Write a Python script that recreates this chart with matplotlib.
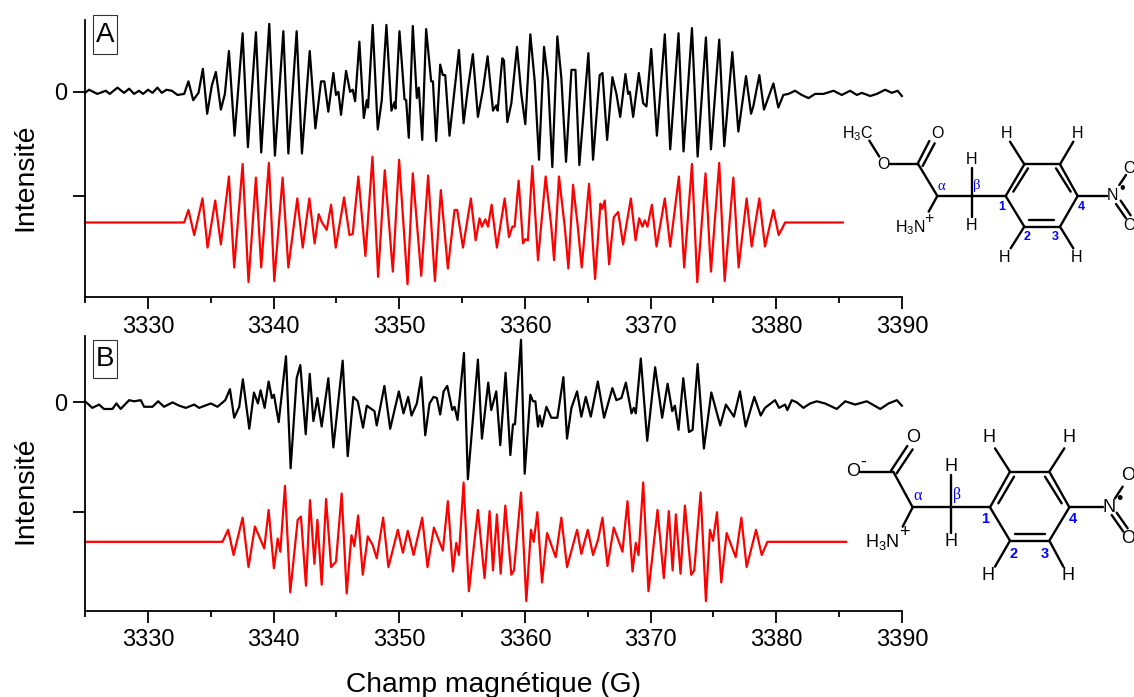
import matplotlib
matplotlib.use('Agg')
import matplotlib.pyplot as plt
from matplotlib.patches import Rectangle
from matplotlib.ticker import MultipleLocator

plt.rcParams['font.family'] = ['Liberation Sans', 'DejaVu Sans']
plt.rcParams['mathtext.default'] = 'regular'

out_name = 'out.png'

# panel A, measured spectrum
field_a_exp = [3325.00, 3325.32, 3325.98, 3326.65, 3326.97, 3327.58, 3328.11, 3328.51, 3328.90, 3329.30, 3329.62, 3330.02,
    3330.37, 3330.76, 3331.11, 3331.48, 3331.91, 3332.36, 3332.89, 3333.23, 3333.61, 3334.03, 3334.38, 3334.72,
    3335.09, 3335.41, 3335.81, 3336.13, 3336.45, 3336.90, 3337.54, 3337.96, 3338.60, 3339.02, 3339.66, 3340.11,
    3340.78, 3341.18, 3341.84, 3342.26, 3342.88, 3343.33, 3343.78, 3344.04, 3344.36, 3344.76, 3344.97, 3345.16,
    3345.37, 3345.77, 3346.09, 3346.30, 3346.49, 3346.83, 3347.18, 3347.42, 3347.52, 3347.89, 3348.29, 3348.61,
    3348.98, 3349.38, 3349.62, 3349.70, 3350.02, 3350.42, 3350.55, 3350.76, 3351.08, 3351.40, 3351.56, 3351.83,
    3352.14, 3352.54, 3352.68, 3352.94, 3353.26, 3353.47, 3353.66, 3354.00, 3354.75, 3355.12, 3355.46, 3355.86,
    3356.26, 3356.66, 3357.03, 3357.46, 3357.72, 3357.83, 3358.20, 3358.33, 3358.60, 3358.92, 3359.37, 3359.71,
    3360.03, 3360.43, 3360.78, 3361.12, 3361.52, 3361.84, 3362.18, 3362.58, 3362.90, 3363.27, 3363.70, 3364.02,
    3364.33, 3365.05, 3365.42, 3365.95, 3366.17, 3366.54, 3366.96, 3367.28, 3367.58, 3368.00, 3368.21, 3368.35,
    3368.61, 3369.06, 3369.41, 3369.67, 3370.05, 3370.50, 3371.13, 3371.56, 3372.22, 3372.62, 3373.29, 3373.74,
    3374.40, 3374.80, 3375.46, 3375.86, 3376.50, 3376.98, 3377.59, 3377.99, 3378.17, 3378.65, 3379.02, 3379.77,
    3380.16, 3380.56, 3380.96, 3381.49, 3382.02, 3382.56, 3383.09, 3383.75, 3384.55, 3385.21, 3385.87, 3386.41,
    3386.80, 3387.47, 3388.00, 3388.66, 3389.19, 3389.65, 3389.99]
int_a_exp = [-0.01, 0.02, -0.02, 0.01, -0.02, 0.04, -0.01, 0.03, -0.02, 0.01, -0.02, 0.02,
    -0.01, 0.04, -0.01, 0.02, 0.01, -0.03, -0.02, 0.10, -0.08, -0.01, 0.22, -0.21,
    0.06, 0.19, -0.17, -0.02, 0.39, -0.42, 0.56, -0.53, 0.57, -0.58, 0.65, -0.61,
    0.58, -0.59, 0.58, -0.59, 0.39, -0.35, 0.10, 0.10, -0.19, 0.18, -0.03, 0.00,
    -0.22, 0.20, 0.00, 0.02, -0.09, 0.48, -0.25, -0.08, -0.15, 0.64, -0.36, -0.08,
    0.64, -0.18, -0.10, -0.16, 0.58, -0.07, -0.08, -0.44, 0.63, -0.06, 0.04, -0.46,
    0.60, 0.10, 0.10, -0.47, 0.26, 0.16, 0.16, -0.42, 0.40, -0.30, 0.03, 0.36,
    -0.24, 0.02, 0.34, -0.18, -0.13, -0.18, 0.32, 0.30, -0.29, -0.11, 0.43, -0.02,
    -0.31, 0.55, 0.10, -0.65, 0.43, 0.11, -0.72, 0.53, 0.13, -0.67, 0.21, 0.21,
    -0.70, 0.37, -0.65, 0.16, 0.18, -0.46, 0.14, -0.02, -0.24, 0.17, -0.02, 0.00,
    -0.24, 0.18, -0.11, -0.14, 0.41, -0.42, 0.55, -0.55, 0.56, -0.57, 0.61, -0.62,
    0.52, -0.55, 0.50, -0.52, 0.38, -0.38, 0.15, -0.21, -0.14, 0.16, -0.17, 0.08,
    -0.15, -0.03, -0.02, 0.01, -0.03, -0.06, -0.02, -0.02, 0.01, -0.03, 0.01, -0.03,
    -0.01, -0.04, -0.02, 0.02, -0.01, 0.01, -0.04]

# panel A, simulation
field_a_sim = [3325.00, 3332.89, 3333.23, 3333.69, 3334.35, 3334.75, 3335.36, 3335.81, 3336.45, 3336.87, 3337.54, 3338.01,
    3338.60, 3339.02, 3339.63, 3340.06, 3340.72, 3341.18, 3341.89, 3342.32, 3342.85, 3343.27, 3343.59, 3343.86,
    3344.23, 3344.58, 3344.95, 3345.61, 3346.04, 3346.30, 3346.75, 3347.31, 3347.87, 3348.32, 3348.85, 3349.49,
    3349.99, 3350.66, 3351.08, 3351.75, 3352.30, 3352.84, 3353.31, 3353.87, 3354.40, 3354.61, 3355.07, 3355.70,
    3356.08, 3356.39, 3356.58, 3356.85, 3357.06, 3357.35, 3357.77, 3358.39, 3358.73, 3359.00, 3359.18, 3359.50,
    3359.85, 3360.03, 3360.24, 3360.59, 3361.04, 3361.65, 3362.10, 3362.32, 3362.71, 3363.09, 3363.17, 3363.46,
    3363.83, 3364.18, 3364.52, 3365.10, 3365.58, 3366.01, 3366.14, 3366.35, 3366.70, 3367.07, 3367.42, 3367.81,
    3368.43, 3368.80, 3369.09, 3369.35, 3369.54, 3369.75, 3370.10, 3370.47, 3371.13, 3371.56, 3372.25, 3372.67,
    3373.29, 3373.71, 3374.37, 3374.80, 3375.46, 3375.89, 3376.58, 3377.00, 3377.64, 3378.04, 3378.65, 3379.10,
    3379.77, 3380.19, 3380.70, 3385.29]
int_a_sim = [-1.25, -1.25, -1.13, -1.37, -1.02, -1.49, -1.04, -1.46, -0.81, -1.68, -0.69, -1.82,
    -0.82, -1.68, -0.68, -1.81, -0.82, -1.68, -1.02, -1.49, -1.02, -1.45, -1.17, -1.25,
    -1.32, -1.08, -1.49, -1.01, -1.37, -1.36, -0.81, -1.57, -0.62, -1.77, -0.75, -1.72,
    -0.65, -1.84, -0.78, -1.76, -0.80, -1.81, -0.94, -1.69, -1.13, -1.13, -1.49, -1.02,
    -1.42, -1.21, -1.29, -1.22, -1.29, -1.08, -1.49, -1.02, -1.39, -1.29, -1.29, -0.85,
    -1.45, -1.41, -1.42, -0.71, -1.61, -0.81, -1.29, -1.61, -0.81, -1.21, -1.29, -1.69,
    -0.89, -1.26, -1.68, -0.88, -1.79, -1.07, -1.12, -1.04, -1.65, -1.20, -1.15, -1.46,
    -1.02, -1.42, -1.21, -1.29, -1.23, -1.29, -1.08, -1.48, -1.02, -1.48, -0.81, -1.68,
    -0.69, -1.82, -0.78, -1.72, -0.68, -1.81, -0.82, -1.68, -1.02, -1.48, -1.02, -1.48,
    -1.13, -1.37, -1.25, -1.25]

# panel B, measured spectrum
field_b_exp = [3325.00, 3325.58, 3326.12, 3326.51, 3327.18, 3327.50, 3327.84, 3328.51, 3328.90, 3329.44, 3329.70, 3330.37,
    3330.82, 3331.29, 3331.96, 3332.49, 3333.02, 3333.69, 3334.08, 3335.01, 3335.54, 3336.16, 3336.53, 3336.87,
    3337.27, 3337.56, 3338.07, 3338.44, 3338.76, 3338.97, 3339.29, 3339.61, 3339.87, 3340.03, 3340.41, 3340.99,
    3341.36, 3341.84, 3342.13, 3342.56, 3342.88, 3343.17, 3343.49, 3343.83, 3344.36, 3344.76, 3345.50, 3345.90,
    3346.35, 3346.70, 3347.12, 3347.42, 3348.03, 3348.21, 3348.82, 3349.28, 3349.97, 3350.34, 3350.71, 3350.98,
    3351.40, 3351.75, 3352.07, 3352.41, 3352.73, 3352.99, 3353.26, 3353.53, 3353.82, 3354.22, 3354.40, 3354.64,
    3355.15, 3355.46, 3356.26, 3356.58, 3357.08, 3357.32, 3357.72, 3358.04, 3358.46, 3358.84, 3359.05, 3359.21,
    3359.69, 3359.98, 3360.43, 3360.64, 3360.83, 3361.04, 3361.17, 3361.36, 3361.71, 3362.10, 3362.58, 3363.06,
    3363.35, 3363.70, 3364.15, 3364.49, 3364.84, 3365.24, 3365.80, 3366.30, 3366.96, 3367.28, 3367.68, 3368.03,
    3368.48, 3368.66, 3368.82, 3369.22, 3369.73, 3370.36, 3370.92, 3371.35, 3371.72, 3371.93, 3372.22, 3372.60,
    3373.05, 3373.34, 3373.74, 3374.24, 3374.83, 3375.54, 3375.99, 3376.63, 3377.11, 3377.56, 3378.25, 3378.76,
    3379.10, 3379.90, 3380.22, 3380.70, 3380.88, 3381.23, 3381.63, 3382.16, 3382.69, 3383.22, 3383.88, 3384.81,
    3385.48, 3386.27, 3387.20, 3388.27, 3388.93, 3389.59, 3389.99]
int_b_exp = [0.01, -0.05, -0.02, -0.06, -0.06, -0.01, -0.06, 0.02, 0.01, 0.02, -0.04, -0.04,
    0.01, -0.04, 0.00, -0.03, -0.05, -0.02, -0.05, -0.01, -0.04, 0.02, 0.12, -0.14,
    -0.04, 0.21, -0.24, 0.09, -0.01, 0.11, -0.05, 0.19, 0.04, 0.07, -0.18, 0.42,
    -0.60, 0.22, 0.34, -0.29, 0.26, -0.17, 0.04, -0.22, 0.22, -0.41, 0.38, -0.49,
    0.05, 0.01, -0.23, -0.03, -0.08, -0.21, 0.15, -0.24, 0.10, -0.10, 0.05, -0.12,
    -0.01, 0.23, -0.30, -0.01, 0.05, 0.04, -0.11, 0.10, 0.15, -0.07, -0.04, -0.16,
    0.45, -0.70, 0.39, -0.33, 0.18, -0.07, 0.10, -0.39, 0.27, -0.48, -0.20, -0.20,
    0.57, -0.65, 0.07, 0.01, 0.01, -0.22, -0.12, -0.22, -0.04, -0.14, -0.14, 0.23,
    -0.33, -0.05, 0.10, -0.13, 0.05, -0.13, 0.19, -0.14, 0.13, 0.02, 0.04, 0.18,
    -0.10, -0.05, -0.10, 0.40, -0.35, 0.32, -0.14, 0.17, -0.08, -0.03, -0.25, 0.22,
    -0.27, -0.25, 0.35, -0.42, 0.09, -0.21, -0.02, -0.13, 0.10, -0.22, 0.05, -0.12,
    -0.05, 0.02, -0.05, -0.02, -0.07, 0.02, 0.00, -0.05, -0.01, 0.01, -0.01, -0.06,
    0.01, -0.02, 0.01, -0.06, -0.01, 0.02, -0.03]

# panel B, simulation
field_b_sim = [3325.00, 3335.94, 3336.39, 3336.82, 3337.54, 3338.01, 3338.52, 3339.26, 3339.61, 3340.03, 3340.33, 3340.54,
    3340.91, 3341.33, 3341.92, 3342.18, 3342.58, 3342.90, 3343.25, 3343.49, 3343.83, 3344.18, 3344.58, 3344.97,
    3345.42, 3345.82, 3346.20, 3346.43, 3346.73, 3347.10, 3347.50, 3347.89, 3348.21, 3348.72, 3349.14, 3349.89,
    3350.29, 3350.68, 3351.14, 3351.83, 3352.25, 3352.76, 3353.47, 3353.87, 3354.27, 3354.54, 3354.75, 3355.12,
    3355.54, 3356.26, 3356.79, 3357.19, 3357.46, 3357.77, 3358.07, 3358.44, 3358.92, 3359.13, 3359.69, 3360.11,
    3360.48, 3360.70, 3360.99, 3361.36, 3361.76, 3362.45, 3362.90, 3363.35, 3364.15, 3364.49, 3365.00, 3365.42,
    3365.82, 3366.17, 3366.57, 3367.07, 3367.76, 3368.16, 3368.56, 3368.82, 3369.04, 3369.41, 3369.83, 3370.55,
    3371.05, 3371.45, 3371.75, 3372.01, 3372.38, 3372.73, 3373.23, 3373.47, 3373.98, 3374.40, 3374.72, 3374.96,
    3375.28, 3375.62, 3376.05, 3376.77, 3377.22, 3377.64, 3378.39, 3378.84, 3379.29, 3385.56]
int_b_sim = [-1.27, -1.27, -1.16, -1.39, -1.05, -1.50, -1.13, -1.33, -0.98, -1.51, -1.24, -1.36,
    -0.76, -1.73, -1.07, -1.04, -1.67, -0.89, -1.47, -1.07, -1.66, -0.88, -1.50, -1.45,
    -0.83, -1.74, -1.21, -1.31, -1.03, -1.57, -1.22, -1.30, -1.42, -1.05, -1.50, -1.16,
    -1.37, -1.17, -1.39, -1.05, -1.50, -1.14, -1.35, -0.90, -1.54, -1.28, -1.39, -0.73,
    -1.72, -0.98, -1.60, -0.99, -1.53, -1.02, -1.56, -0.94, -1.57, -1.53, -0.82, -1.81,
    -1.16, -1.27, -1.00, -1.64, -1.19, -1.41, -1.05, -1.50, -1.16, -1.38, -1.16, -1.39,
    -1.25, -1.05, -1.49, -1.14, -1.36, -0.90, -1.54, -1.28, -1.39, -0.73, -1.72, -0.98,
    -1.60, -0.99, -1.53, -1.02, -1.56, -0.94, -1.57, -1.53, -0.82, -1.81, -1.16, -1.26,
    -1.00, -1.64, -1.19, -1.41, -1.05, -1.50, -1.16, -1.39, -1.27, -1.27]

x_ticks = [3330, 3340, 3350, 3360, 3370, 3380, 3390]
y_ticks = [0, -1]
y_labels = ['0', '']

W, H = 1134, 697
fig = plt.figure(figsize=(W / 100, H / 100), dpi=100)


def make_panel(top, bottom, ylim, fx, ix, fs, isim, xpad, ylab_y):
    ax = fig.add_axes([85 / W, 1 - bottom / H, 817 / W, (bottom - top) / H])
    ax.plot(fx, ix, color='black', lw=1.6, clip_on=False)
    ax.plot(fs, isim, color='#ff0000', lw=1.6, clip_on=False)
    ax.set_xlim(3325, 3390)
    ax.set_ylim(*ylim)
    ax.spines['top'].set_visible(False)
    ax.spines['right'].set_visible(False)
    ax.spines['left'].set_linewidth(1.3)
    ax.spines['bottom'].set_linewidth(1.3)
    ax.set_xticks(x_ticks)
    ax.xaxis.set_minor_locator(MultipleLocator(5))
    ax.set_yticks(y_ticks)
    ax.set_yticklabels(y_labels)
    ax.tick_params(axis='both', which='major', length=8.6, width=1.3, labelsize=17, pad=4)
    ax.tick_params(axis='x', which='major', pad=xpad)
    ax.tick_params(axis='x', which='minor', length=4.3, width=1.3)
    ax.set_ylabel('Intensité', fontsize=20.5, va='center')
    ax.yaxis.set_label_coords(-60 / 817, ylab_y)
    return ax


ax_a = make_panel(20, 296.5, (-1.958, 0.687), field_a_exp, int_a_exp, field_a_sim, int_a_sim, 5.5, 0.432)
ax_b = make_panel(336.5, 611, (-1.90, 0.60), field_b_exp, int_b_exp, field_b_sim, int_b_sim, 4, 0.441)
fig.text(493 / W, 1 - 685 / H, 'Champ magnétique (G)', fontsize=20.3, ha='center', va='center')

# overlay in pixels for the boxed letters and the two molecules
ov = fig.add_axes([0, 0, 1, 1], facecolor='none')
ov.set_xlim(0, W)
ov.set_ylim(H, 0)
ov.axis('off')

ov.add_patch(Rectangle((92.7, 15.3), 24, 38.7, fill=False, ec='#333333', lw=0.8))
ov.text(104.7, 35, 'A', fontsize=20, ha='center', va='center')
ov.add_patch(Rectangle((93.3, 340), 24, 38.3, fill=False, ec='#333333', lw=0.8))
ov.text(105.3, 359.5, 'B', fontsize=20, ha='center', va='center')


def draw_mol(x0, y0, bonds, labels, fs, blue_fs, greek_fs):
    for b in bonds:
        ov.plot([x0 + b[0] / 3, x0 + b[2] / 3], [y0 + b[1] / 3, y0 + b[3] / 3], color='black', lw=1.7,
                solid_capstyle='round', clip_on=False)
    for x, y, s, kind in labels:
        if kind == 'k':
            ov.text(x0 + x / 3, y0 + y / 3, s, fontsize=fs, ha='center', va='center', color='black', clip_on=True)
        elif kind == 'b':
            ov.text(x0 + x / 3, y0 + y / 3, s, fontsize=blue_fs, ha='center', va='center', color='#0000ff',
                    fontweight='bold')
        else:
            ov.text(x0 + x / 3, y0 + y / 3, s, fontsize=greek_fs, ha='center', va='center', color='#0000ff',
                    family='Liberation Serif')


bonds_a = [(118, 92, 148, 140), (180, 163, 265, 163), (262, 163, 298, 93), (278, 168, 314, 100),
    (265, 163, 322, 258), (322, 258, 425, 258), (322, 258, 296, 305), (425, 258, 425, 175), (425, 258, 425, 322),
    (425, 258, 527, 258), (527, 258, 583, 163), (583, 163, 690, 163), (690, 163, 743, 258), (743, 258, 690, 350),
    (690, 350, 583, 350), (583, 350, 527, 258), (550, 245, 594, 175), (678, 175, 722, 245), (598, 330, 672, 330),
    (583, 163, 540, 95), (690, 163, 730, 95), (583, 350, 542, 415), (690, 350, 730, 415), (743, 258, 830, 258),
    (868, 225, 888, 195), (858, 282, 888, 325), (872, 272, 902, 316)]
labels_a = [(82, 70, 'H$_3$C', 'k'), (322, 70, 'O', 'k'), (160, 163, 'O', 'k'), (242, 352, 'H$_3$N', 'k'),
    (297, 325, '+', 'k'), (425, 150, 'H', 'k'), (425, 348, 'H', 'k'), (528, 72, 'H', 'k'), (742, 72, 'H', 'k'),
    (525, 442, 'H', 'k'), (740, 442, 'H', 'k'), (848, 258, 'N', 'k'), (877, 237, '•', 'k'), (898, 175, 'O', 'k'),
    (898, 345, 'O', 'k'), (515, 290, '1', 'b'), (753, 290, '4', 'b'), (592, 382, '2', 'b'), (677, 382, '3', 'b'),
    (333, 228, 'α', 'g'), (441, 225, 'β', 'g')]
draw_mol(830, 110, bonds_a, labels_a, 11.5, 9, 10.5)

bonds_b = [(90, 155, 185, 155), (183, 152, 232, 78), (200, 160, 248, 88), (190, 155, 248, 262), (248, 262, 362, 262),
    (248, 262, 218, 320), (362, 262, 362, 165), (362, 262, 362, 340), (362, 262, 480, 262), (480, 262, 540, 155),
    (540, 155, 658, 155), (658, 155, 718, 262), (718, 262, 658, 362), (658, 362, 540, 362), (540, 362, 480, 262),
    (505, 250, 552, 170), (645, 170, 695, 250), (555, 343, 645, 343), (540, 155, 495, 85), (658, 155, 703, 85),
    (540, 362, 495, 440), (658, 362, 700, 440), (718, 262, 818, 262), (855, 235, 878, 200), (845, 285, 880, 335),
    (860, 278, 893, 325)]
labels_b = [(248, 52, 'O', 'k'), (68, 155, 'O', 'k'), (100, 128, '-', 'k'), (157, 365, 'H$_3$N', 'k'),
    (222, 338, '+', 'k'), (362, 140, 'H', 'k'), (362, 365, 'H', 'k'), (478, 52, 'H', 'k'), (717, 52, 'H', 'k'),
    (475, 468, 'H', 'k'), (715, 468, 'H', 'k'), (838, 262, 'N', 'k'), (868, 237, '•', 'k'), (893, 168, 'O', 'k'),
    (893, 355, 'O', 'k'), (464, 296, '1', 'b'), (730, 296, '4', 'b'), (550, 402, '2', 'b'), (643, 402, '3', 'b'),
    (262, 228, 'α', 'g'), (382, 225, 'β', 'g')]
draw_mol(830, 420, bonds_b, labels_b, 13, 10.5, 11.5)

fig.savefig(out_name, dpi=100)
